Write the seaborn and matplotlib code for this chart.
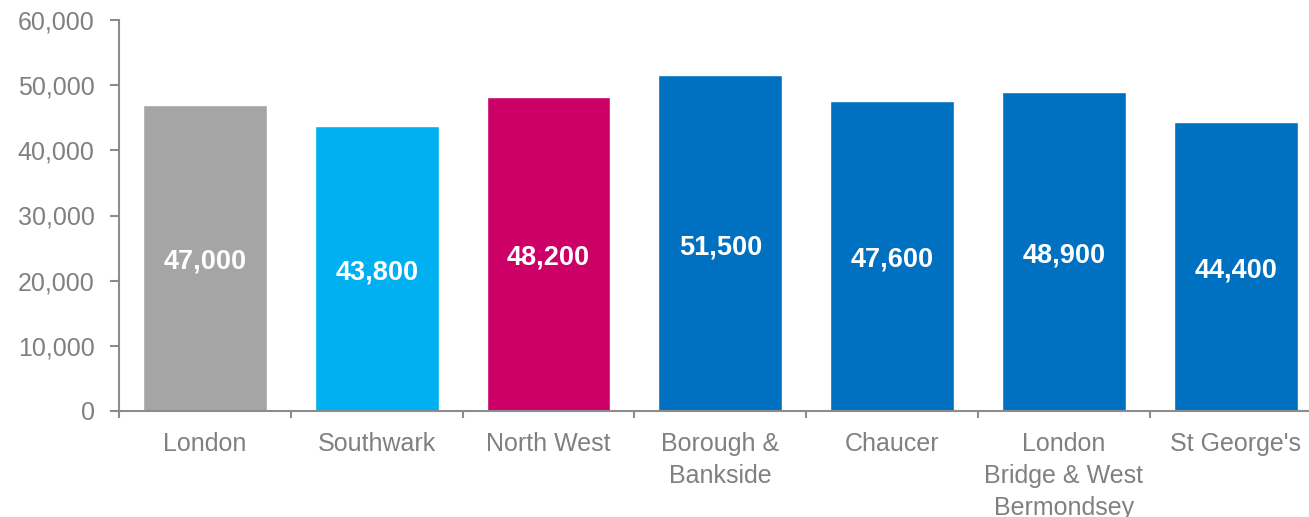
import matplotlib
matplotlib.use("Agg")
import matplotlib.pyplot as plt
import seaborn as sns
import pandas as pd
from matplotlib.ticker import FuncFormatter, FixedLocator

categories = ["London", "Southwark", "North West", "Borough &\nBankside", "Chaucer",
              "London\nBridge & West\nBermondsey", "St George's"]
values = [47000, 43800, 48200, 51500, 47600, 48900, 44400]
colors = ["#A5A5A5", "#00B0F0", "#CC0066", "#0070C0", "#0070C0", "#0070C0", "#0070C0"]

sns.set_theme(style="white")
plt.rcParams['font.family'] = ['Liberation Sans', 'DejaVu Sans']

df = pd.DataFrame({"cat": categories, "val": values})

fig = plt.figure(figsize=(13.09, 5.17), dpi=100)
ax = fig.add_axes([119/1309, 106/517, 1202.6/1309, 391/517])

sns.barplot(data=df, x="cat", y="val", hue="cat", palette=colors, legend=False,
            width=0.72, saturation=1, ax=ax, order=categories, hue_order=categories)

ax.set_xlim(-0.5, len(categories) - 0.5)
ax.set_ylim(0, 60000)
ax.set_yticks(range(0, 60001, 10000))
ax.yaxis.set_major_formatter(FuncFormatter(lambda v, p: f"{int(v):,}"))

grey = "#8C8C8C"
for s in ["top", "right"]:
    ax.spines[s].set_visible(False)
for s in ["left", "bottom"]:
    ax.spines[s].set_color(grey)
    ax.spines[s].set_linewidth(1.5)

ax.set_xlabel("")
ax.set_ylabel("")

ax.tick_params(axis="y", which="major", left=True, length=6.5, width=1.5, color=grey,
               pad=11, labelsize=18, labelcolor="#808080")
ax.tick_params(axis="x", which="major", bottom=False, length=0, pad=15,
               labelsize=18, labelcolor="#808080")
ax.xaxis.set_minor_locator(FixedLocator([i + 0.5 for i in range(-1, len(categories))]))
ax.tick_params(axis="x", which="minor", bottom=True, length=5, width=1.5, color=grey)
for lbl in ax.get_xticklabels():
    lbl.set_linespacing(1.42)

for i, v in enumerate(values):
    ax.text(i, v / 2 - 600, f"{v:,}", ha="center", va="center", color="white",
            fontsize=19.5, fontweight="bold")

fig.savefig("out.png", dpi=100)
